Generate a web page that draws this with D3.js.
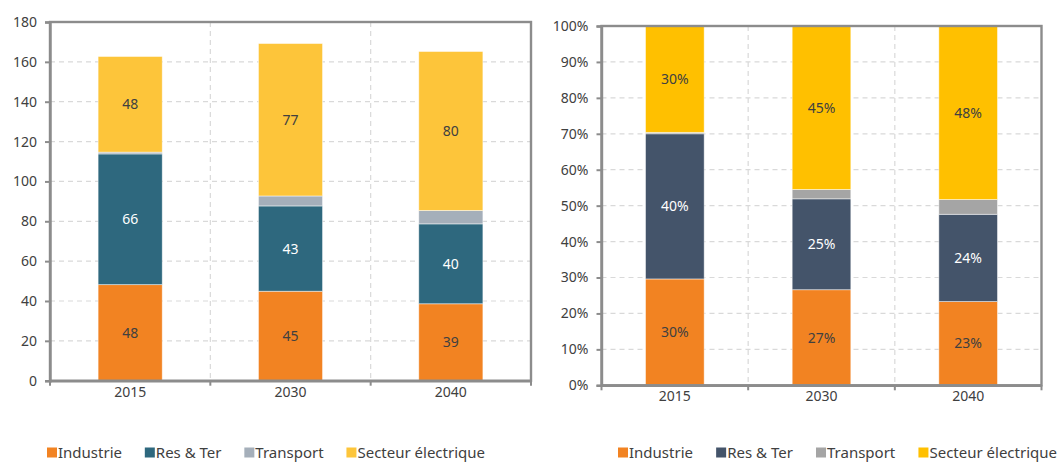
<!DOCTYPE html>
<html>
<head>
<meta charset="utf-8">
<script src="https://cdn.jsdelivr.net/npm/d3@7"></script>
<style>
  html, body { margin: 0; padding: 0; background: #fff; }
  svg { display: block; font-family: "Noto Sans", "Open Sans", sans-serif; }
</style>
</head>
<body>
<svg id="chart" width="1060" height="462"></svg>
<script>
// Years on the x axis
const years = ["2015", "2030", "2040"];
const sectors = ["Industrie", "Res & Ter", "Transport", "Secteur électrique"];

// Volumes by sector (left panel)
const industrie = [48.2, 44.9, 38.6];
const resTer = [65.6, 42.8, 40.1];
const transport = [0.9, 5.0, 6.7];
const secteurElec = [48.0, 76.5, 79.8];

// Shares by sector, in % (right panel)
const shareIndustrie = [29.6, 26.6, 23.3];
const shareResTer = [40.4, 25.3, 24.3];
const shareTransport = [0.4, 2.6, 4.1];
const shareSecteurElec = [29.6, 45.5, 48.3];

// Axis ticks
const volumeTicks = [0, 20, 40, 60, 80, 100, 120, 140, 160, 180];
const shareTicks = [0, 10, 20, 30, 40, 50, 60, 70, 80, 90, 100];

const svg = d3.select("#chart");

function rows(series) {
  return years.map((y, i) => {
    const r = { year: y };
    sectors.forEach((s, k) => { r[s] = series[k][i]; });
    return r;
  });
}

function panel(cfg) {
  const g = svg.append("g");
  const x = d3.scaleBand().domain(years).range([cfg.left, cfg.right]).padding(0);
  const y = d3.scaleLinear().domain([0, cfg.max]).range([cfg.bottom, cfg.top]);
  const barW = x.bandwidth() * 0.40;

  // dashed grid
  g.append("g").selectAll("line").data(cfg.ticks.slice(1, -1)).join("line")
    .attr("x1", cfg.left).attr("x2", cfg.right)
    .attr("y1", d => y(d)).attr("y2", d => y(d))
    .attr("stroke", "#d9d9d9").attr("stroke-width", 1.2).attr("stroke-dasharray", "5,4");
  g.append("g").selectAll("line").data(years.slice(1)).join("line")
    .attr("x1", d => x(d)).attr("x2", d => x(d))
    .attr("y1", cfg.top).attr("y2", cfg.bottom)
    .attr("stroke", "#d9d9d9").attr("stroke-width", 1.2).attr("stroke-dasharray", "5,4");

  // stacked bars
  const stack = d3.stack().keys(sectors)(rows(cfg.series));
  const layers = g.append("g").selectAll("g").data(stack).join("g")
    .attr("fill", (d, i) => cfg.colors[i]);
  layers.selectAll("rect").data(d => d).join("rect")
    .attr("x", d => x(d.data.year) + (x.bandwidth() - barW) / 2)
    .attr("width", barW)
    .attr("y", d => y(d[1]))
    .attr("height", d => y(d[0]) - y(d[1]))
    .attr("stroke", "#fff").attr("stroke-opacity", 0.6).attr("stroke-width", 0.8);

  // value labels (Transport is not labelled)
  stack.forEach((layer, i) => {
    if (sectors[i] === "Transport") return;
    g.append("g").selectAll("text").data(layer).join("text")
      .attr("x", d => x(d.data.year) + x.bandwidth() / 2)
      .attr("y", d => (y(d[0]) + y(d[1])) / 2)
      .attr("dy", "0.36em")
      .attr("text-anchor", "middle")
      .attr("font-size", 14)
      .attr("fill", cfg.labelColors[i])
      .text(d => Math.round(d[1] - d[0]) + cfg.suffix);
  });

  // frame
  const axisColor = "#8c8c8c";
  g.append("rect")
    .attr("x", cfg.left).attr("y", cfg.top)
    .attr("width", cfg.right - cfg.left).attr("height", cfg.bottom - cfg.top)
    .attr("fill", "none").attr("stroke", axisColor).attr("stroke-width", 2.4);

  // y axis
  const ya = g.append("g").attr("transform", `translate(${cfg.left},0)`)
    .call(d3.axisLeft(y).tickValues(cfg.ticks).tickSize(5).tickPadding(8)
      .tickFormat(d => d + cfg.suffix));
  ya.select(".domain").attr("stroke", axisColor).attr("stroke-width", 2.4);
  ya.selectAll(".tick line").attr("stroke", axisColor).attr("stroke-width", 2);
  ya.selectAll(".tick text").attr("font-size", 14).attr("fill", "#404040")
    .attr("font-family", "Noto Sans, sans-serif");

  // x axis: labels under bars, ticks on band edges
  const xa = g.append("g").attr("transform", `translate(0,${cfg.bottom})`)
    .call(d3.axisBottom(x).tickSize(0).tickPadding(cfg.xPad));
  xa.select(".domain").attr("stroke", axisColor).attr("stroke-width", 2.4);
  xa.selectAll(".tick text").attr("font-size", 14).attr("fill", "#404040")
    .attr("font-family", "Noto Sans, sans-serif");
  const edges = [cfg.left].concat(years.map(d => x(d) + x.bandwidth()));
  g.append("g").selectAll("line").data(edges).join("line")
    .attr("x1", d => d).attr("x2", d => d)
    .attr("y1", cfg.bottom).attr("y2", cfg.bottom + 5)
    .attr("stroke", axisColor).attr("stroke-width", 2);

  // legend
  const lg = g.append("g");
  const items = lg.selectAll("g").data(sectors).join("g");
  items.append("rect").attr("width", 10).attr("height", 10)
    .attr("y", cfg.legendY - 10).attr("fill", (d, i) => cfg.colors[i]);
  items.append("text").attr("x", 11).attr("y", cfg.legendY)
    .attr("font-size", 15).attr("fill", "#404040").text(d => d);
  const widths = items.nodes().map(n => 11 + n.querySelector("text").getComputedTextLength());
  const gap = (cfg.legendWidth - d3.sum(widths)) / (sectors.length - 1);
  let cx = cfg.legendX;
  items.attr("transform", (d, i) => { const t = `translate(${cx},0)`; cx += widths[i] + gap; return t; });
}

panel({
  left: 50, right: 531, top: 22, bottom: 380.7, max: 180,
  ticks: volumeTicks, suffix: "", xPad: 6,
  series: [industrie, resTer, transport, secteurElec],
  colors: ["#f28322", "#2e687e", "#a5afba", "#fdc53a"],
  labelColors: ["#404040", "#ffffff", "#404040", "#404040"],
  legendX: 47, legendY: 457.5, legendWidth: 438
});

panel({
  left: 601.5, right: 1041.5, top: 26, bottom: 385.3, max: 100,
  ticks: shareTicks, suffix: "%", xPad: 6,
  series: [shareIndustrie, shareResTer, shareTransport, shareSecteurElec],
  colors: ["#f28322", "#44546a", "#a5a5a5", "#ffc000"],
  labelColors: ["#404040", "#ffffff", "#404040", "#404040"],
  legendX: 618, legendY: 457.5, legendWidth: 439
});
</script>
</body>
</html>
